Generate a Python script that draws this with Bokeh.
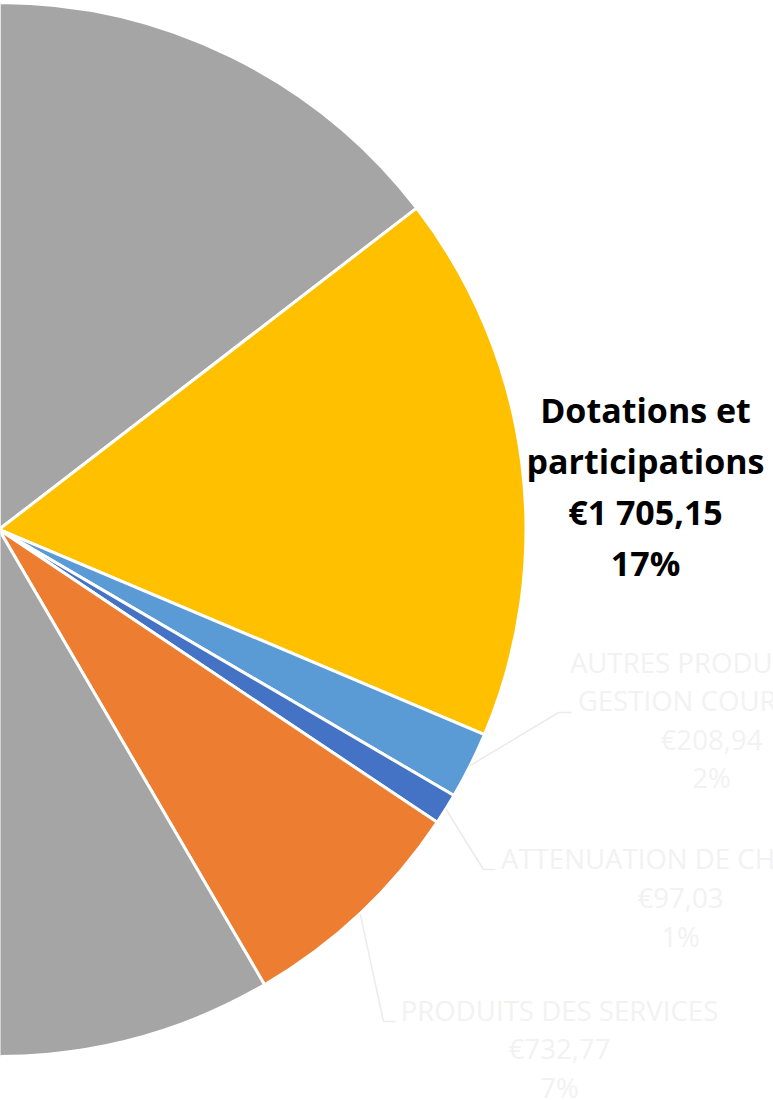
import math
from bokeh.plotting import figure
from bokeh.models import Range1d, ColumnDataSource
from bokeh.core.properties import value
from bokeh.embed import file_html
from bokeh.resources import INLINE

# ---------------- data ----------------
categories = ["Autres (partie haute)", "Dotations et participations",
              "AUTRES PRODUITS DE GESTION COURANTE", "ATTENUATION DE CHARGES",
              "PRODUITS DES SERVICES", "Autres (partie basse)"]
values = [1478.0, 1705.15, 208.94, 97.03, 732.77, 5928.0]
colors = ["#A5A5A5", "#FFC000", "#5B9BD5", "#4472C4", "#ED7D31", "#A5A5A5"]
label_lines = [None, ["Dotations et", "participations"],
               ["AUTRES PRODUITS DE", "GESTION COURANTE"],
               ["ATTENUATION DE CHARGES"], ["PRODUITS DES SERVICES"], None]

# ---------------- layout ----------------
W, H = 773, 1100
CX, CY, R = -1.5, -529.0, 527.0

p = figure(width=W, height=H, output_backend="svg", toolbar_location=None,
           x_range=Range1d(0, W), y_range=Range1d(-H, 0),
           min_border=0, outline_line_color=None, background_fill_color="white")
p.axis.visible = False
p.grid.visible = False

total = sum(values)
cum = 0.0
starts, ends, mids = [], [], []
for v in values:
    a0 = math.pi / 2 - 2 * math.pi * cum / total
    cum += v
    a1 = math.pi / 2 - 2 * math.pi * cum / total
    starts.append(a0)
    ends.append(a1)
    mids.append((a0 + a1) / 2)

src = ColumnDataSource(dict(x=[CX] * len(values), y=[CY] * len(values),
                            start=starts, end=ends, color=colors, cat=categories))
p.wedge(x="x", y="y", radius=R, start_angle="start", end_angle="end",
        direction="clock", fill_color="color", line_color="white",
        line_width=3, source=src)


def euro(v):
    s = "{:,.2f}".format(v)
    return "€" + s.replace(",", " ").replace(".", ",")


# label placement: (center x, first text y, line spacing, style, leader elbow, leader end)
placement = {
    1: (645, 409, 51, "bold", None, None),
    2: (711, 661, 38.5, "normal", (558, 712), (571, 712)),
    3: (680, 857, 39, "normal", (483, 869), (495, 869)),
    4: (559, 1009, 38.5, "normal", (383, 1021), (395, 1021)),
}

for i, (cx, by, dy, style, elbow, lend) in placement.items():
    lines = list(label_lines[i]) + [euro(values[i]),
                                    "{:.0f}%".format(100 * values[i] / total)]
    bold = style == "bold"
    xs = [cx] * len(lines)
    ys = [-(by + k * dy) for k in range(len(lines))]
    p.text(x=xs, y=ys, text=lines, text_align="center", text_baseline="alphabetic",
           text_font=value("Open Sans"), text_font_style=style,
           text_font_size="34px" if bold else "27.6px",
           text_color="#000000" if bold else "#F2F2F2")
    if elbow is not None:
        sx = CX + R * math.cos(mids[i])
        sy = CY + R * math.sin(mids[i])
        p.line(x=[sx, elbow[0], lend[0]], y=[sy, -elbow[1], -lend[1]],
               line_color="#EBEBEB", line_width=1.5)

open("out.html", "w").write(file_html(p, INLINE))
